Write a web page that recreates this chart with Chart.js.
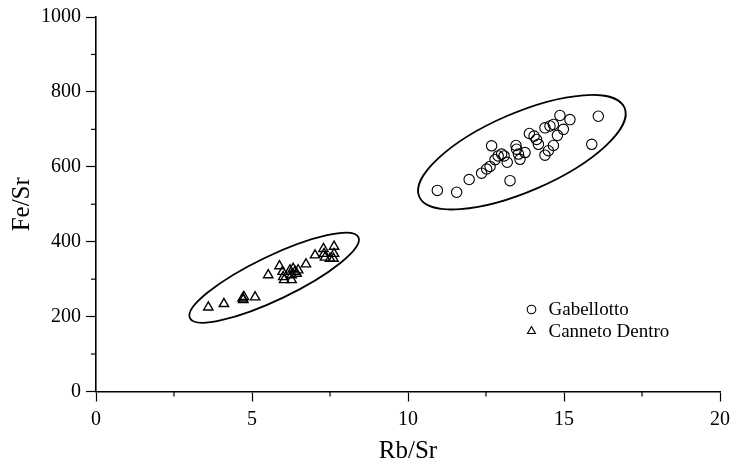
<!DOCTYPE html>
<html>
<head>
<meta charset="utf-8">
<script src="https://cdn.jsdelivr.net/npm/chart.js@4/dist/chart.umd.min.js"></script>
<style>
  body { margin: 0; background: #fff; }
</style>
</head>
<body>
<canvas id="Chart" width="737" height="470"></canvas>
<script>
// Gabellotto (circles)
const gabRb = [10.94, 11.56, 11.96, 12.36, 12.52, 12.63, 12.68, 12.79, 12.89, 13.00, 13.08, 13.18,
               13.27, 13.46, 13.48, 13.54, 13.59, 13.75, 13.89, 14.04, 14.12, 14.18, 14.39, 14.55,
               14.66, 14.87, 15.19, 14.98, 14.79, 14.66, 14.39, 14.50, 16.10, 15.89];
const gabFe = [537, 532, 566, 583, 594, 601, 656, 619, 629, 634, 629, 612,
               563, 657, 647, 634, 620, 638, 689, 682, 673, 660, 704, 709,
               713, 737, 726, 700, 684, 657, 631, 643, 735, 660];

// Canneto Dentro (triangles)
const canRb = [3.60, 4.10, 4.70, 4.74, 4.72, 5.10, 5.52, 5.88, 5.98, 6.00, 6.03, 6.22, 6.27,
               6.32, 6.38, 6.43, 6.27, 6.48, 6.73, 7.02, 7.29, 7.31, 7.34, 7.50, 7.63, 7.63, 7.61];
const canFe = [225, 234, 249, 253, 245, 252, 311, 335, 320, 306, 298, 324, 311,
               328, 320, 315, 298, 324, 340, 364, 381, 368, 358, 355, 387, 368, 355];

const seriesNames = ['Gabellotto', 'Canneto Dentro'];

// ellipses round each group: centre, end of long axis (data units), short/long ratio
const ellCentreX = [13.65, 5.71];
const ellCentreY = [639, 304];
const ellTipX = [16.94, 8.41];
const ellTipY = [758, 412];
const ellRatio = [0.35, 0.234];

const FONT = "'Liberation Serif', 'Times New Roman', serif";

function toPoints(xs, ys) {
    return xs.map((x, i) => ({ x: x, y: ys[i] }));
}

/* ellipses drawn from data units through the scales */
const ellipsePlugin = {
    id: 'ellipses',
    afterDatasetsDraw(chart) {
        const ctx = chart.ctx;
        const xs = chart.scales.x, ys = chart.scales.y;
        ctx.save();
        ctx.strokeStyle = '#000';
        ctx.lineWidth = 1.8;
        for (let i = 0; i < ellCentreX.length; i++) {
            const cx = xs.getPixelForValue(ellCentreX[i]);
            const cy = ys.getPixelForValue(ellCentreY[i]);
            const tx = xs.getPixelForValue(ellTipX[i]);
            const ty = ys.getPixelForValue(ellTipY[i]);
            const a = Math.hypot(tx - cx, ty - cy);
            const ang = Math.atan2(ty - cy, tx - cx);
            ctx.beginPath();
            ctx.ellipse(cx, cy, a, a * ellRatio[i], ang, 0, Math.PI * 2);
            ctx.stroke();
        }
        ctx.restore();
    }
};

/* short minor ticks, major ones come from the grid */
const minorTicks = {
    id: 'minorTicks',
    afterDraw(chart) {
        const ctx = chart.ctx;
        const xs = chart.scales.x, ys = chart.scales.y;
        ctx.save();
        ctx.strokeStyle = '#000';
        ctx.lineWidth = 1.2;
        xs.ticks.forEach(t => {
            if (t.value % 5 !== 0) {
                const px = xs.getPixelForValue(t.value);
                ctx.beginPath();
                ctx.moveTo(px, xs.top);
                ctx.lineTo(px, xs.top + 5);
                ctx.stroke();
            }
        });
        ys.ticks.forEach(t => {
            if (t.value % 200 !== 0) {
                const py = ys.getPixelForValue(t.value);
                ctx.beginPath();
                ctx.moveTo(ys.right, py);
                ctx.lineTo(ys.right - 5, py);
                ctx.stroke();
            }
        });
        ctx.restore();
    }
};

/* legend inside the plot, lower right */
const boxLegend = {
    id: 'boxLegend',
    afterDraw(chart) {
        const ctx = chart.ctx;
        const area = chart.chartArea;
        const x0 = area.left + 435.5;
        const y0 = area.top + 292.5;
        ctx.save();
        ctx.font = '19px ' + FONT;
        ctx.textBaseline = 'middle';
        chart.data.datasets.forEach((ds, i) => {
            const y = y0 + i * 21.7;
            ctx.fillStyle = 'rgba(0,0,0,0)';
            ctx.strokeStyle = '#000';
            ctx.lineWidth = 1.1;
            Chart.helpers.drawPoint(ctx, {
                pointStyle: ds.pointStyle,
                radius: i === 0 ? 4.3 : 4.6,
                borderWidth: 1.1,
                rotation: 0
            }, x0, y);
            ctx.fillStyle = '#000';
            ctx.fillText(ds.label, x0 + 17, y + 1);
        });
        ctx.restore();
    }
};

const ctx = document.getElementById('Chart').getContext('2d');
const myChart = new Chart(ctx, {
    type: 'scatter',
    data: {
        datasets: [{
            label: seriesNames[0],
            data: toPoints(gabRb, gabFe),
            pointStyle: 'circle',
            pointRadius: 5.2,
            borderColor: '#000',
            backgroundColor: 'rgba(0,0,0,0)',
            borderWidth: 1.1
        }, {
            label: seriesNames[1],
            data: toPoints(canRb, canFe),
            pointStyle: 'triangle',
            pointRadius: 5.4,
            borderColor: '#000',
            backgroundColor: 'rgba(0,0,0,0)',
            borderWidth: 1.4
        }]
    },
    options: {
        responsive: false,
        devicePixelRatio: 1,
        animation: false,
        layout: {
            padding: { top: 12.7, right: 17, left: 0, bottom: 0 }
        },
        plugins: {
            legend: { display: false },
            tooltip: { enabled: false }
        },
        scales: {
            x: {
                type: 'linear',
                min: 0,
                max: 20,
                afterFit: s => { s.height = 78.5; },
                border: { display: true, color: '#000', width: 1.6 },
                grid: {
                    drawOnChartArea: false,
                    drawTicks: true,
                    tickLength: 10,
                    tickWidth: 1.2,
                    tickColor: c => (c.tick && c.tick.value % 5 === 0) ? '#000' : 'rgba(0,0,0,0)'
                },
                ticks: {
                    stepSize: 2.5,
                    autoSkip: false,
                    maxRotation: 0,
                    padding: 6,
                    color: '#000',
                    font: { family: FONT, size: 20 },
                    callback: v => v % 5 === 0 ? String(v) : ''
                },
                title: {
                    display: true,
                    text: 'Rb/Sr',
                    color: '#000',
                    font: { family: FONT, size: 25 },
                    padding: { top: 7 }
                }
            },
            y: {
                type: 'linear',
                min: 0,
                max: 1000,
                afterFit: s => { s.width = 96; },
                border: { display: true, color: '#000', width: 1.6 },
                grid: {
                    drawOnChartArea: false,
                    drawTicks: true,
                    tickLength: 10,
                    tickWidth: 1.2,
                    tickColor: c => (c.tick && c.tick.value % 200 === 0) ? '#000' : 'rgba(0,0,0,0)'
                },
                ticks: {
                    stepSize: 100,
                    autoSkip: false,
                    padding: 5,
                    color: '#000',
                    font: { family: FONT, size: 20 },
                    callback: v => v % 200 === 0 ? String(v) : ''
                },
                title: {
                    display: true,
                    text: 'Fe/Sr',
                    color: '#000',
                    font: { family: FONT, size: 25 },
                    padding: { top: 7, bottom: 4 }
                }
            }
        }
    },
    plugins: [ellipsePlugin, minorTicks, boxLegend]
});
</script>
</body>
</html>
